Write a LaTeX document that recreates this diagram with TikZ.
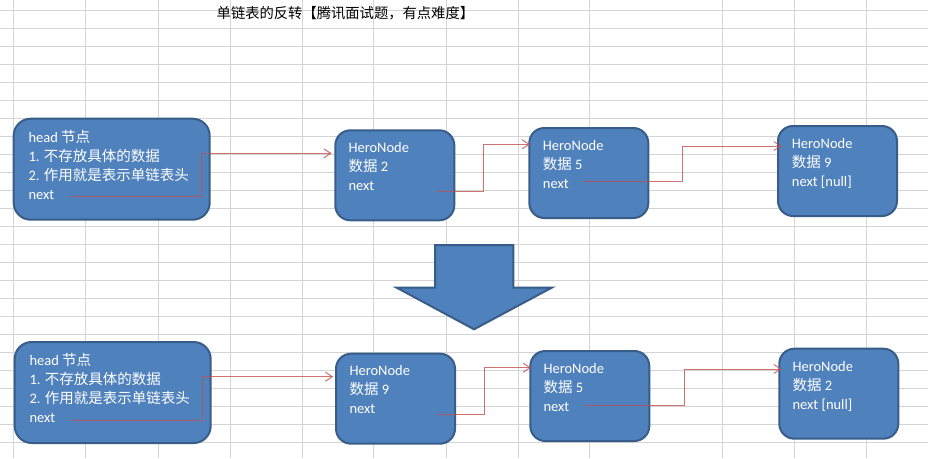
\documentclass[tikz,border=0pt]{standalone}
\usepackage{fontspec}
\setmainfont{Carlito}
\newfontfamily\cjk{Noto Sans CJK SC}
\usetikzlibrary{arrows.meta}
\definecolor{gridc}{HTML}{D4D4D4}
\definecolor{boxfill}{HTML}{4F81BD}
\definecolor{boxline}{HTML}{385D8A}
\definecolor{connc}{HTML}{C0504D}
\tikzset{
  gridline/.style={draw=gridc, line width=1pt},
  headbox/.style={draw=boxline, fill=boxfill, line width=2pt, rounded corners=17pt,
    minimum width=196pt, minimum height=101pt, inner sep=0pt, anchor=north west},
  herobox/.style={draw=boxline, fill=boxfill, line width=2pt, rounded corners=15pt,
    minimum width=119pt, minimum height=90pt, inner sep=0pt, anchor=north west},
  txt/.style={text=white, inner sep=0pt, anchor=base west, font=\fontsize{14.5}{17}\selectfont},
  titletxt/.style={text=black, inner sep=0pt, anchor=base west, font=\fontsize{14.3}{17}\selectfont},
  conn/.style={draw=connc, draw opacity=0.8, line width=1pt, -{Straight Barb[length=7pt,width=9pt]}},
  bigarrow/.style={draw=boxline, fill=boxfill, line width=2pt, line join=miter},
}
\begin{document}
\begin{tikzpicture}[x=1pt,y=-1pt]
\useasboundingbox (0,0) rectangle (928,458);
% spreadsheet grid
\foreach \gx in {13,85.6,158,230,302,373.6,446,518,589.3,722.7,794.3,866.3}
  \draw[gridline] (\gx,0) -- (\gx,458);
\foreach \k in {0,...,24}
  \draw[gridline] (0,{10+18.01*\k}) -- (928,{10+18.01*\k});

% title
\node[titletxt] (title) at (216.5,18) {\cjk 单链表的反转【腾讯面试题，有点难度】};

% ---------- top row ----------
\node[headbox] (hA) at (12.7,117.7) {};
\node[txt] (hA1) at (28.3,142.3) {head {\cjk 节点}};
\node[txt] (hA2) at (28.3,161.3) {1. {\cjk 不存放具体的数据}};
\node[txt] (hA3) at (28.3,180.3) {2. {\cjk 作用就是表示单链表头}};
\node[txt] (hA4) at (28.3,199.3) {next};

\node[herobox] (a1) at (334.3,129.3) {};
\node[txt] (a1t1) at (348.3,152.3) {HeroNode};
\node[txt] (a1t2) at (348.3,171.3) {{\cjk 数据} 2};
\node[txt] (a1t3) at (348.3,190.3) {next};

\node[herobox] (a2) at (528.3,127) {};
\node[txt] (a2t1) at (542.7,150) {HeroNode};
\node[txt] (a2t2) at (542.7,169) {{\cjk 数据} 5};
\node[txt] (a2t3) at (542.7,188) {next};

\node[herobox] (a3) at (777,125) {};
\node[txt] (a3t1) at (791.7,148.3) {HeroNode};
\node[txt] (a3t2) at (791.7,167.3) {{\cjk 数据} 9};
\node[txt] (a3t3) at (791.7,186.3) {next [null]};

\coordinate (s1) at (70,196.7);   \coordinate (k1) at (201.7,153.3); \coordinate (e1) at (331.7,153.3);
\coordinate (s2) at (436.7,191.7);\coordinate (k2) at (483.3,144.3); \coordinate (e2) at (530,144.3);
\coordinate (s3) at (583.3,181.7);\coordinate (k3) at (682.3,146);   \coordinate (e3) at (781.7,146);
\draw[conn] (s1) -| (k1) -- (e1);
\draw[conn] (s2) -| (k2) -- (e2);
\draw[conn] (s3) -| (k3) -- (e3);

% ---------- big down arrow ----------
\draw[bigarrow] (435,245) -- (513.3,245) -- (513.3,287.7) -- (551.7,287.7)
  -- (474,329.3) -- (396.7,287.7) -- (435,287.7) -- cycle;

% ---------- bottom row ----------
\node[headbox] (hB) at (13.7,341) {};
\node[txt] (hB1) at (29.3,365) {head {\cjk 节点}};
\node[txt] (hB2) at (29.3,384) {1. {\cjk 不存放具体的数据}};
\node[txt] (hB3) at (29.3,403) {2. {\cjk 作用就是表示单链表头}};
\node[txt] (hB4) at (29.3,422) {next};

\node[herobox] (b1) at (335,352.7) {};
\node[txt] (b1t1) at (349.3,375) {HeroNode};
\node[txt] (b1t2) at (349.3,394) {{\cjk 数据} 9};
\node[txt] (b1t3) at (349.3,413) {next};

\node[herobox] (b2) at (529.3,350) {};
\node[txt] (b2t1) at (543.3,373) {HeroNode};
\node[txt] (b2t2) at (543.3,392) {{\cjk 数据} 5};
\node[txt] (b2t3) at (543.3,411) {next};

\node[herobox] (b3) at (778.3,347.7) {};
\node[txt] (b3t1) at (792.3,371) {HeroNode};
\node[txt] (b3t2) at (792.3,390) {{\cjk 数据} 2};
\node[txt] (b3t3) at (792.3,409) {next [null]};

\coordinate (s4) at (71.7,420);   \coordinate (k4) at (202.3,376.7); \coordinate (e4) at (333.3,376.7);
\coordinate (s5) at (437.3,414.3);\coordinate (k5) at (484.3,367.7); \coordinate (e5) at (531,367.7);
\coordinate (s6) at (585,405);    \coordinate (k6) at (684,369);     \coordinate (e6) at (781.7,369);
\draw[conn] (s4) -| (k4) -- (e4);
\draw[conn] (s5) -| (k5) -- (e5);
\draw[conn] (s6) -| (k6) -- (e6);
\end{tikzpicture}
\end{document}
